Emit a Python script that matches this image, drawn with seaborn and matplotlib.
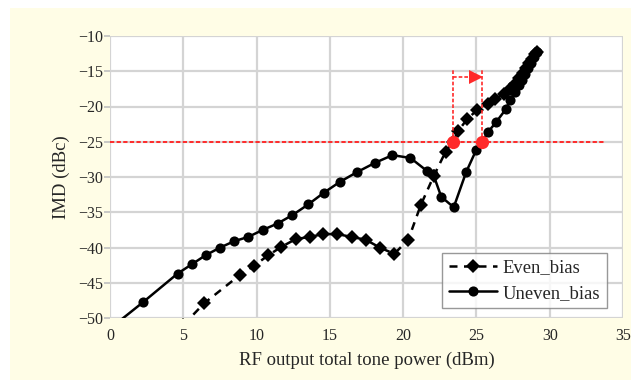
import matplotlib
matplotlib.use("Agg")
import matplotlib.pyplot as plt
from matplotlib.patches import Rectangle
import seaborn as sns
import pandas as pd

# ---- data ----
even_x = [5.0, 6.43, 8.86, 9.82, 10.8, 11.7, 12.68, 13.63, 14.54, 15.52, 16.48, 17.45,
          18.4, 19.39, 20.35, 21.2, 22.1, 22.9, 23.4, 23.75, 24.36, 25.05, 25.8, 26.3,
          26.9, 27.3, 27.6, 27.9, 28.2, 28.4, 28.6, 28.8, 29.0, 29.1]
even_y = [-51.0, -47.9, -43.9, -42.6, -41.1, -39.9, -38.8, -38.5, -38.1, -38.1, -38.5, -38.9,
          -40.0, -40.9, -38.9, -34.0, -29.8, -26.4, -25.0, -23.5, -21.8, -20.5, -19.6, -18.9,
          -18.2, -17.5, -16.8, -16.0, -15.2, -14.5, -13.8, -13.2, -12.6, -12.2]

uneven_x = [0.0, 2.23, 4.61, 5.57, 6.52, 7.52, 8.48, 9.43, 10.43, 11.43, 12.45, 13.52,
            14.61, 15.68, 16.86, 18.07, 19.27, 20.5, 21.6, 22.05, 22.6, 23.45, 24.3, 25.0,
            25.4, 25.8, 26.35, 27.0, 27.3, 27.6, 27.9, 28.1, 28.3, 28.5, 28.7, 28.9, 29.1]
uneven_y = [-51.5, -47.8, -43.7, -42.4, -41.1, -40.0, -39.1, -38.5, -37.5, -36.6, -35.4, -33.9,
            -32.2, -30.7, -29.3, -28.0, -26.9, -27.3, -29.1, -29.6, -32.8, -34.3, -29.3, -26.1,
            -25.0, -23.6, -22.2, -20.4, -19.1, -18.0, -17.0, -16.2, -15.4, -14.6, -13.8, -13.0, -12.3]

series_names = ["Even_bias", "Uneven_bias"]
x_ticks = [0, 5, 10, 15, 20, 25, 30, 35]
y_ticks = [-50, -45, -40, -35, -30, -25, -20, -15, -10]
threshold = -25
highlight_x = [23.4, 25.4]
arrow_y = -15.8
vline_top = -14.7
threshold_end = 33.8

df = pd.concat([
    pd.DataFrame({"x": even_x, "y": even_y, "series": series_names[0]}),
    pd.DataFrame({"x": uneven_x, "y": uneven_y, "series": series_names[1]}),
], ignore_index=True)

sns.set_theme(style="white")
plt.rcParams["font.family"] = ["Liberation Serif", "DejaVu Serif"]
plt.rcParams["axes.unicode_minus"] = True

fig = plt.figure(figsize=(6.41, 3.91), dpi=100, facecolor="white")
fig.patches.append(Rectangle((10 / 641, 1 - 380 / 391), 621 / 641, 372 / 391,
                             transform=fig.transFigure, facecolor="#FFFDE6",
                             edgecolor="none", zorder=-10))
ax = fig.add_axes([110 / 641, 1 - 318 / 391, 513 / 641, 282 / 391])
ax.set_facecolor("white")

red = "#FF2A2A"
# threshold line
ax.plot([0, threshold_end], [threshold, threshold], color=red, lw=1.4,
        linestyle=(0, (2.2, 1.2)), zorder=2)

sns.lineplot(data=df, x="x", y="y", hue="series", style="series",
             palette={"Even_bias": "black", "Uneven_bias": "black"},
             markers={"Even_bias": "D", "Uneven_bias": "o"},
             dashes={"Even_bias": (3.2, 2.6), "Uneven_bias": ""},
             markersize=7.3, markeredgewidth=0, linewidth=1.8,
             estimator=None, sort=False, ax=ax, zorder=3)

# red markers and arrow
for hx in highlight_x:
    ax.plot([hx, hx], [threshold, vline_top], color=red, lw=1.2,
            linestyle=(0, (2.2, 1.2)), zorder=4)
ax.plot(highlight_x, [threshold, threshold], "o", color=red, markersize=9.5,
        markeredgewidth=0, zorder=5)
ax.plot([highlight_x[0], highlight_x[1] - 0.4], [arrow_y, arrow_y], color=red, lw=1.2,
        linestyle=(0, (2.2, 1.2)), zorder=4)
ax.plot([highlight_x[1] - 0.45], [arrow_y], ">", color=red, markersize=9.5,
        markeredgewidth=0, zorder=5)

ax.set_xlim(0, 35)
ax.set_ylim(-50, -10)
ax.set_xticks(x_ticks)
ax.set_yticks(y_ticks)
ax.grid(True, color="#D4D4D4", linewidth=1.6)
ax.set_axisbelow(True)
for s in ax.spines.values():
    s.set_visible(False)
ax.tick_params(axis="y", which="major", left=True, length=4, width=1.2,
               color="#BFBFBF", labelsize=11.5, pad=1)
ax.tick_params(axis="x", which="major", bottom=False, labelsize=11.5, pad=1)
ax.set_xlabel("RF output total tone power (dBm)", fontsize=13.5, labelpad=6)
ax.set_ylabel("IMD (dBc)", fontsize=13.5, labelpad=6)

leg = ax.legend(title=None, loc="lower right", bbox_to_anchor=(0.968, 0.034),
                borderaxespad=0, fontsize=13.4, frameon=True, fancybox=False,
                handlelength=2.6, handletextpad=0.3, borderpad=0.35, labelspacing=0.45)
leg.get_frame().set_edgecolor("#7F7F7F")
leg.get_frame().set_linewidth(1.0)

fig.savefig("out.png", dpi=100, facecolor="white")
